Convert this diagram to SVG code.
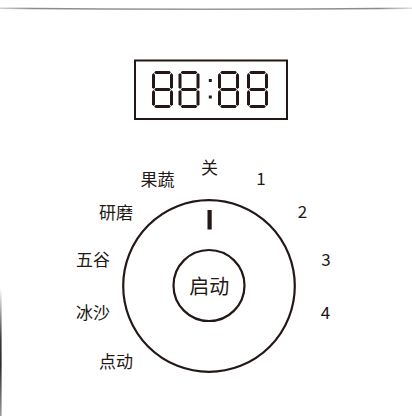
<svg xmlns="http://www.w3.org/2000/svg" width="412" height="416" viewBox="0 0 412 416">
  <defs>
    <linearGradient id="topg" x1="0" y1="0" x2="1" y2="0">
      <stop offset="0" stop-color="#d0d0d0"/>
      <stop offset="0.08" stop-color="#8a8a8a"/>
      <stop offset="0.5" stop-color="#9a9a9a"/>
      <stop offset="0.92" stop-color="#8a8a8a"/>
      <stop offset="1" stop-color="#e0e0e0"/>
    </linearGradient>
    <linearGradient id="leftg" x1="0" y1="0" x2="0" y2="1">
      <stop offset="0" stop-color="#ffffff"/>
      <stop offset="0.4" stop-color="#3a3a3a"/>
      <stop offset="0.6" stop-color="#2a2a2a"/>
      <stop offset="1" stop-color="#9a9a9a"/>
    </linearGradient>
    <g id="d8" fill="#231815">
      <polygon points="2.1,1.5 3.6,0 17.4,0 18.9,1.5 17.4,3 3.6,3"/>
      <polygon points="2.1,18.5 3.6,17 17.4,17 18.9,18.5 17.4,20 3.6,20"/>
      <polygon points="2.1,35.5 3.6,34 17.4,34 18.9,35.5 17.4,37 3.6,37"/>
      <polygon points="1.5,2.1 3,3.6 3,16.4 1.5,17.9 0,16.4 0,3.6"/>
      <polygon points="1.5,19.1 3,20.6 3,33.4 1.5,34.9 0,33.4 0,20.6"/>
      <polygon points="19.5,2.1 21,3.6 21,16.4 19.5,17.9 18,16.4 18,3.6"/>
      <polygon points="19.5,19.1 21,20.6 21,33.4 19.5,34.9 18,33.4 18,20.6"/>
    </g>
  </defs>
  <style>
    .lbl { font-family: "Noto Sans CJK SC", "Noto Sans", sans-serif; font-size: 17px; fill: #231815; text-anchor: middle; }
    .ring { fill: none; stroke: #231815; stroke-width: 2.2; }
  </style>
  <rect width="412" height="416" fill="#ffffff"/>
  <path d="M0,8.3 Q206,10.3 412,8.3" fill="none" stroke="url(#topg)" stroke-width="1.6"/>
  <rect x="0" y="288" width="1.6" height="128" fill="url(#leftg)"/>

  <g id="display">
    <rect x="135" y="60.5" width="152" height="58.5" fill="none" stroke="#231815" stroke-width="2"/>
    <use href="#d8" x="152" y="71"/>
    <use href="#d8" x="178.5" y="71"/>
    <rect x="208.8" y="79" width="3" height="3" fill="#231815"/>
    <rect x="208.8" y="95.5" width="3" height="3" fill="#231815"/>
    <use href="#d8" x="218" y="71"/>
    <use href="#d8" x="247" y="71"/>
  </g>

  <g id="knob">
    <circle class="ring" cx="209" cy="286" r="85.8"/>
    <rect x="207.5" y="210" width="4.2" height="19.5" fill="#231815"/>
  </g>

  <g id="start">
    <circle class="ring" cx="209" cy="285.5" r="35.5"/>
    <text class="lbl" x="209.3" y="294" style="font-size:20px">启动</text>
  </g>

  <g id="labels">
    <text class="lbl" x="209.5" y="174">关</text>
    <text class="lbl" x="157.5" y="185.5">果蔬</text>
    <text class="lbl" x="261" y="185">1</text>
    <text class="lbl" x="116" y="219">研磨</text>
    <text class="lbl" x="302.5" y="218.3">2</text>
    <text class="lbl" x="93" y="266">五谷</text>
    <text class="lbl" x="326" y="266">3</text>
    <text class="lbl" x="93" y="319">冰沙</text>
    <text class="lbl" x="325.5" y="319.3">4</text>
    <text class="lbl" x="116" y="367.5">点动</text>
  </g>
</svg>
